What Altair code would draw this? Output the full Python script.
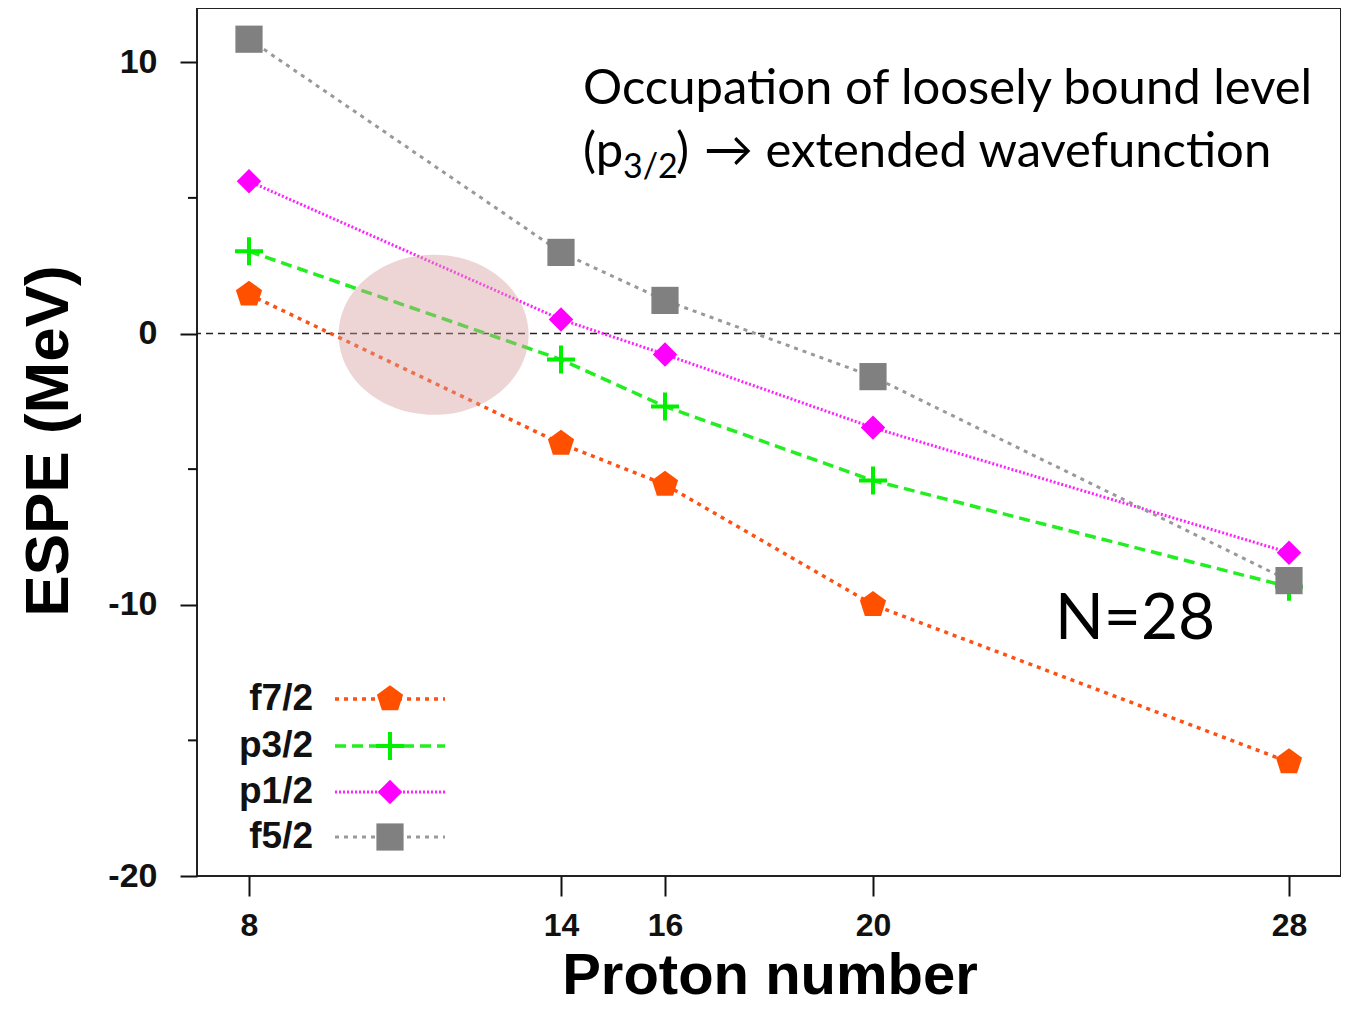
import altair as alt
import pandas as pd

# ---- data ----
protons = [8, 14, 16, 20, 28]
f72 = [1.44, -4.06, -5.57, -10.0, -15.8]
p32 = [3.03, -0.96, -2.69, -5.42, -9.34]
p12 = [5.61, 0.52, -0.77, -3.47, -8.08]
f52 = [10.85, 2.99, 1.22, -1.59, -9.11]

series_names = ["f7/2", "p3/2", "p1/2", "f5/2"]
series_vals = [f72, p32, p12, f52]

x_ticks = [8, 14, 16, 20, 28]
y_major = [-20, -10, 0, 10]
y_minor = [-15, -5, 5]

highlight_center = {"Z": [11.55], "E": [-0.05]}

# ---- styles ----
line_colors = ["#FF5014", "#22EE22", "#FF22FF", "#999999"]
mark_colors = ["#FF5000", "#00F000", "#FF00FF", "#808080"]
dashes = [[4, 5], [11, 6], [2, 2], [4, 5]]
line_widths = [3.5, 3.5, 3, 3]
pentagon = "M0,-1L0.951,-0.309L0.588,0.809L-0.588,0.809L-0.951,-0.309Z"
plus = "M-1,0L1,0M0,-1L0,1"
shapes = [pentagon, plus, "diamond", "square"]
sizes = [760, 784, 600, 740]
filled = [True, False, True, True]

W, H = 1144, 868

xs = alt.Scale(domain=[7, 29], nice=False, zero=False)
ys = alt.Scale(domain=[-20, 12], nice=False, zero=False)

xenc = alt.X("Z:Q", scale=xs, title=None,
             axis=alt.Axis(values=x_ticks, tickSize=20, labelPadding=14,
                           labelFontSize=32,
                           labelFlush=False, labelOverlap=False, grid=False,
                           domain=False))
yenc = alt.Y("E:Q", scale=ys, title=None,
             axis=alt.Axis(values=y_major, tickSize=17, labelPadding=23,
                           labelExpr="'' + datum.value",
                           labelOverlap=False, grid=False, domain=False))

rows = []
for name, vals in zip(series_names, series_vals):
    for z, e in zip(protons, vals):
        rows.append({"series": name, "Z": z, "E": e})
df = pd.DataFrame(rows)

layers = []

# zero line
layers.append(
    alt.Chart(pd.DataFrame({"E": [0]})).mark_rule(
        color="#222", strokeDash=[7, 5], strokeWidth=1.6
    ).encode(y=yenc)
)

# series lines
for i, name in enumerate(series_names):
    layers.append(
        alt.Chart(df[df.series == name]).mark_line(
            color=line_colors[i], strokeDash=dashes[i], strokeWidth=line_widths[i]
        ).encode(x=xenc, y=yenc)
    )

# series markers
for i, name in enumerate(series_names):
    kw = dict(shape=shapes[i], size=sizes[i], opacity=1)
    if filled[i]:
        mk = alt.Chart(df[df.series == name]).mark_point(
            filled=True, color=mark_colors[i], **kw)
    else:
        mk = alt.Chart(df[df.series == name]).mark_point(
            filled=False, color=mark_colors[i], strokeWidth=4, **kw)
    layers.append(mk.encode(x=xenc, y=yenc))

# highlight ellipse
ellipse = "M-1,0A1,0.842,0,1,0,1,0A1,0.842,0,1,0,-1,0Z"
layers.append(
    alt.Chart(pd.DataFrame(highlight_center)).mark_point(
        shape=ellipse, size=36100, filled=True, color="#D49A9A",
        opacity=0.42, strokeWidth=0
    ).encode(x=xenc, y=yenc)
)

# minor y ticks
layers.append(
    alt.Chart(pd.DataFrame({"E": y_minor})).mark_rule(
        color="#111", strokeWidth=2
    ).encode(y=yenc, x=alt.value(-9), x2=alt.value(0))
)

# legend
leg_y = [691, 738, 784, 829]
for i, name in enumerate(series_names):
    d = pd.DataFrame({"t": [name]})
    layers.append(
        alt.Chart(d).mark_text(
            align="right", baseline="middle", font="Liberation Sans",
            fontWeight="bold", fontSize=37, color="#111"
        ).encode(text="t:N", x=alt.value(116), y=alt.value(leg_y[i]))
    )
    layers.append(
        alt.Chart(d).mark_rule(
            color=line_colors[i], strokeDash=dashes[i], strokeWidth=line_widths[i]
        ).encode(x=alt.value(138), x2=alt.value(248), y=alt.value(leg_y[i]))
    )
    kw = dict(shape=shapes[i], size=sizes[i], opacity=1)
    if filled[i]:
        mk = alt.Chart(d).mark_point(filled=True, color=mark_colors[i], **kw)
    else:
        mk = alt.Chart(d).mark_point(filled=False, color=mark_colors[i],
                                     strokeWidth=4, **kw)
    layers.append(mk.encode(x=alt.value(193), y=alt.value(leg_y[i])))


def txt(s, x, y, size, font="Lato", weight="normal", align="left",
        baseline="alphabetic", angle=0):
    return alt.Chart(pd.DataFrame({"t": [s]})).mark_text(
        align=align, baseline=baseline, font=font, fontWeight=weight,
        fontSize=size, color="#000", angle=angle
    ).encode(text="t:N", x=alt.value(x), y=alt.value(y))


# annotations
layers.append(txt("Occupation of loosely bound level", 386, 96, 49))
layers.append(txt("(p", 386, 159, 49))
layers.append(txt("3/2", 426, 170, 34))
layers.append(txt(")", 479, 159, 49))
layers.append(txt("\u2192 extended wavefunction", 507, 159, 49))
layers.append(txt("N=28", 858, 631, 64))

# axis titles
layers.append(txt("ESPE (MeV)", -148, 433, 62, font="Liberation Sans",
                  weight="bold", align="center", baseline="middle", angle=270))
layers.append(txt("Proton number", 573, 986, 58, font="Liberation Sans",
                  weight="bold", align="center"))

chart = alt.layer(*layers).properties(
    width=W, height=H,
    autosize=alt.AutoSizeParams(type="none"),
    padding={"left": 189, "top": 0, "right": 0, "bottom": 131},
).configure_view(
    stroke="#222", strokeWidth=2
).configure_axis(
    labelFont="Liberation Sans", labelFontWeight="bold", labelFontSize=34,
    labelColor="#111", tickColor="#111", tickWidth=2
)

chart.save("out.html", embed_options={"renderer": "svg", "actions": False})
